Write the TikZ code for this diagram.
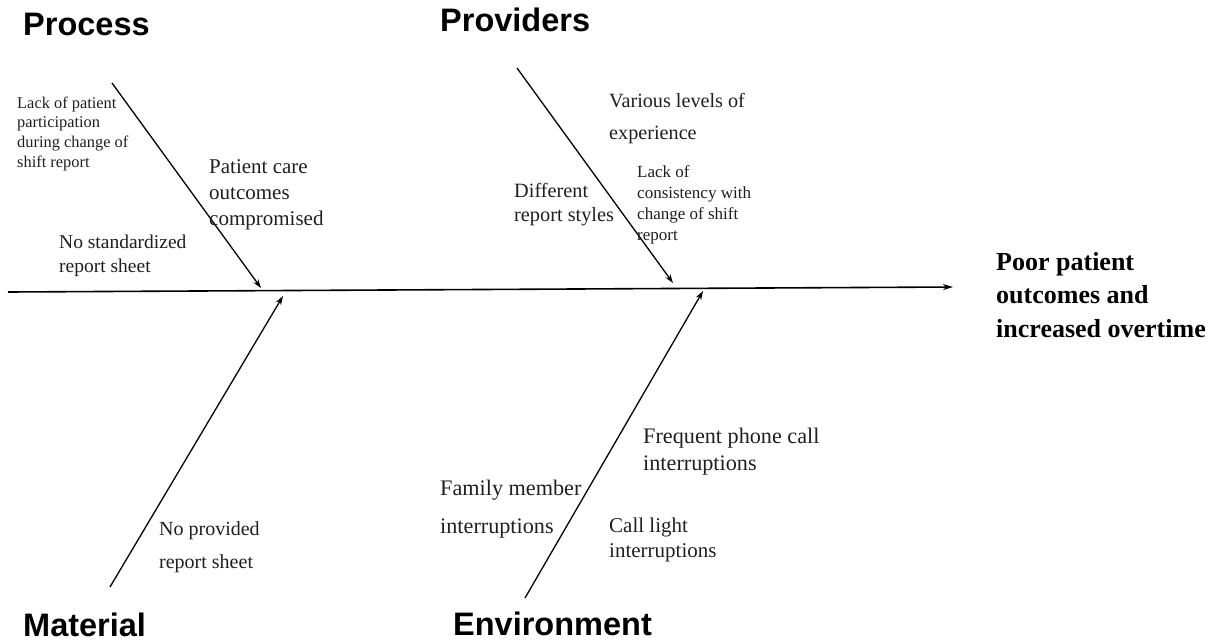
\documentclass[tikz,border=0pt]{standalone}
\usepackage{fontspec}
\setmainfont{Liberation Serif}
\newfontfamily\catfont{Liberation Sans}
\usetikzlibrary{arrows.meta}
\tikzset{
  cat/.style={anchor=base west, inner sep=0pt, font={\catfont\bfseries\fontsize{32.5}{36}\selectfont}},
  cause/.style={anchor=base west, inner sep=0pt, align=left, text=black!88},
  bone/.style={line width=1.3pt, -{Stealth[length=9pt,width=6pt]}},
  spine/.style={line width=1.6pt, -{Stealth[length=10pt,width=6pt]}}
}
\begin{document}
\begin{tikzpicture}[x=1pt,y=-1pt]
\useasboundingbox (0,0) rectangle (1220,643);
% category labels
\node[cat] (process) at (23,35) {Process};
\node[cat] (providers) at (440,31) {Providers};
\node[cat] (material) at (23,636) {Material};
\node[cat] (environment) at (453,635) {Environment};
% effect (anchor = baseline of last line)
\node[anchor=base west, inner sep=0pt, align=left, font={\bfseries\fontsize{26}{33.5}\selectfont}] (effect) at (996,337) {Poor patient\\outcomes and\\increased overtime};
% spine
\coordinate (spineS) at (8,292);
\coordinate (spineE) at (953,287);
\draw[spine] (spineS) -- (spineE);
% bones
\coordinate (procS) at (112,83);
\coordinate (procE) at (261,288);
\coordinate (provS) at (517,68);
\coordinate (provE) at (673,283);
\coordinate (matS) at (110,587);
\coordinate (matE) at (283,296);
\coordinate (envS) at (525,598);
\coordinate (envE) at (703,291);
\draw[bone] (procS) -- (procE);
\draw[bone] (provS) -- (provE);
\draw[bone] (matS) -- (matE);
\draw[bone] (envS) -- (envE);
% causes: process
\node[cause, font={\fontsize{16.4}{19.6}\selectfont}] (lackpart) at (17,167) {Lack of patient\\participation\\during change of\\shift report};
\node[cause, font={\fontsize{21}{26}\selectfont}] (patcare) at (209,225) {Patient care\\outcomes\\compromised};
\node[cause, font={\fontsize{19.5}{24}\selectfont}] (nostd) at (59,272) {No standardized\\report sheet};
% causes: providers
\node[cause, font={\fontsize{20.2}{32}\selectfont}] (various) at (609,139) {Various levels of\\experience};
\node[cause, font={\fontsize{20.3}{24}\selectfont}] (different) at (514,221) {Different\\report styles};
\node[cause, font={\fontsize{17}{20.7}\selectfont}] (lackcons) at (637,240) {Lack of\\consistency with\\change of shift\\report};
% causes: material
\node[cause, font={\fontsize{20}{33}\selectfont}] (noprov) at (159,568) {No provided\\report sheet};
% causes: environment
\node[cause, font={\fontsize{22.2}{27}\selectfont}] (freq) at (643,470) {Frequent phone call\\interruptions};
\node[cause, font={\fontsize{22.2}{38}\selectfont}] (family) at (440,533) {Family member\\interruptions};
\node[cause, font={\fontsize{21}{25}\selectfont}] (calllight) at (609,557) {Call light\\interruptions};
\end{tikzpicture}
\end{document}
